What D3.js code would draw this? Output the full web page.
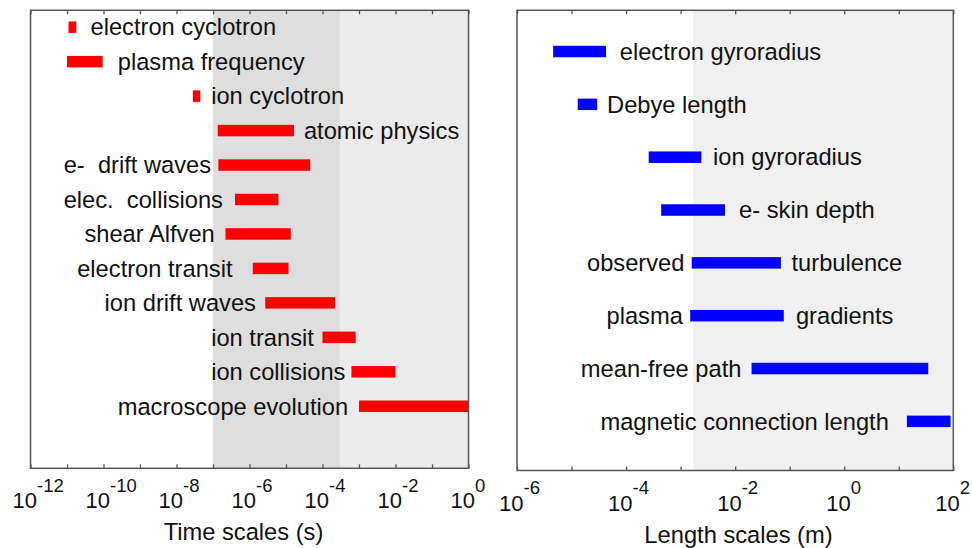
<!DOCTYPE html>
<html>
<head>
<meta charset="utf-8">
<script src="https://cdn.jsdelivr.net/npm/d3@7"></script>
<style>
  html, body { margin: 0; padding: 0; background: #fff; }
  svg { display: block; }
  text { font-family: "Liberation Sans", Arial, Helvetica, sans-serif; fill: #111; white-space: pre; }
</style>
</head>
<body>
<svg id="chart" width="972" height="548"></svg>
<script>
// ---------- Time scales (left panel) ----------
const timeCats = ["electron cyclotron", "plasma frequency", "ion cyclotron", "atomic physics",
  "e-  drift waves", "elec.  collisions", "shear Alfven", "electron transit",
  "ion drift waves", "ion transit", "ion collisions", "macroscope evolution"];
const timeLo = [1.1e-11, 1.0e-11, 2.8e-8, 1.35e-7, 1.4e-7, 4.0e-7, 2.2e-7, 1.23e-6, 2.7e-6, 1.0e-4, 6.2e-4, 1.0e-3];
const timeHi = [1.8e-11, 9.5e-11, 4.5e-8, 1.66e-5, 4.6e-5, 6.2e-6, 1.35e-5, 1.17e-5, 2.2e-4, 8.1e-4, 1.0e-2, 1.0];
const timeLabelAt = [4.4e-11, 2.45e-10, 8.9e-8, 3.1e-5, 8.1e-12, 8.1e-12, 3.0e-11, 1.9e-11, 1.07e-10, 8.9e-8, 8.9e-8, 2.45e-10];
const timeDomain = [1e-12, 1];
const timeTickExps = [-12, -10, -8, -6, -4, -2, 0];
const timeShadeDark = [1e-7, 3e-4];
const timeShadeLight = [3e-4, 1];
const timeTitle = "Time scales (s)";

// ---------- Length scales (right panel) ----------
const lengthLabels = [["electron gyroradius"], ["Debye length"], ["ion gyroradius"], ["e- skin depth"],
  ["observed", "turbulence"], ["plasma", "gradients"], ["mean-free path"], ["magnetic connection length"]];
const lengthLo = [4.6e-6, 1.3e-5, 2.6e-4, 4.4e-4, 1.6e-3, 1.5e-3, 2.0e-2, 14.1];
const lengthHi = [4.3e-5, 2.95e-5, 2.4e-3, 6.5e-3, 6.9e-2, 7.8e-2, 34.7, 89];
const lengthLabelAt = [[7.66e-5], [4.48e-5], [3.94e-3], [1.18e-2], [1.92e-5, 0.108], [4.37e-5, 0.13], [1.48e-5], [3.39e-5]];
const lengthDomain = [1e-6, 100];
const lengthTickExps = [-6, -4, -2, 0, 2];
const lengthShade = [1.7e-3, 100];
const lengthTitle = "Length scales (m)";

const svg = d3.select("#chart");
const frameColor = "#555";

function panel(cfg) {
  const x = d3.scaleLog().domain(cfg.domain).range([cfg.left, cfg.right]);
  const y = d3.scaleLinear().domain(cfg.yDomain).range([cfg.top, cfg.bottom]);
  const g = svg.append("g");

  // shading
  cfg.shades.forEach(s => {
    g.append("rect")
      .attr("x", x(s.range[0])).attr("y", cfg.top)
      .attr("width", x(s.range[1]) - x(s.range[0]))
      .attr("height", cfg.bottom - cfg.top)
      .attr("fill", s.color);
  });

  // bars
  const rows = d3.range(cfg.lo.length);
  const bh = 11.5;
  g.selectAll("rect.bar").data(rows).join("rect")
    .attr("class", "bar")
    .attr("x", i => x(cfg.lo[i]))
    .attr("y", i => y(i) - bh / 2)
    .attr("width", i => x(cfg.hi[i]) - x(cfg.lo[i]))
    .attr("height", bh)
    .attr("fill", cfg.color);

  // labels
  rows.forEach(i => {
    cfg.labels[i].forEach((t, k) => {
      g.append("text")
        .attr("x", x(cfg.labelAt[i][k]))
        .attr("y", y(i))
        .attr("dy", "0.35em")
        .attr("font-size", 23.7)
        .text(t);
    });
  });

  // ticks (every decade, inward)
  const decades = d3.range(Math.log10(cfg.domain[0]), Math.log10(cfg.domain[1]) + 1).map(e => Math.pow(10, e));
  const bottomAxis = d3.axisBottom(x).tickValues(decades).tickSize(-4).tickFormat("");
  const topAxis = d3.axisTop(x).tickValues(decades).tickSize(-4).tickFormat("");
  const ga = g.append("g").attr("transform", `translate(0,${cfg.bottom})`).call(bottomAxis);
  const gt = g.append("g").attr("transform", `translate(0,${cfg.top})`).call(topAxis);
  [ga, gt].forEach(a => {
    a.select(".domain").remove();
    a.selectAll(".tick line").attr("stroke", frameColor).attr("stroke-width", 1.3);
  });

  // frame
  g.append("rect")
    .attr("x", cfg.left).attr("y", cfg.top)
    .attr("width", cfg.right - cfg.left).attr("height", cfg.bottom - cfg.top)
    .attr("fill", "none").attr("stroke", frameColor).attr("stroke-width", 1.5);

  // tick labels 10^n
  cfg.tickExps.forEach(e => {
    const t = g.append("text")
      .attr("x", x(Math.pow(10, e)) - 18)
      .attr("y", cfg.bottom + 40)
      .attr("font-size", 22);
    t.append("tspan").text("10");
    t.append("tspan").attr("dy", -16.5).attr("font-size", 18.5).text(String(e));
  });

  // axis title
  g.append("text")
    .attr("x", cfg.titleX)
    .attr("y", cfg.bottom + 72)
    .attr("text-anchor", "middle")
    .attr("font-size", 23.7)
    .text(cfg.title);
}

panel({
  domain: timeDomain, left: 30.5, right: 468.5, top: 10.3, bottom: 468.3,
  yDomain: [-0.49, 12.8],
  lo: timeLo, hi: timeHi, labels: timeCats.map(c => [c]), labelAt: timeLabelAt.map(v => [v]),
  color: "#ff0000",
  shades: [{ range: timeShadeDark, color: "#dedede" }, { range: timeShadeLight, color: "#ebebeb" }],
  tickExps: timeTickExps, title: timeTitle, titleX: 243.5
});

panel({
  domain: lengthDomain, left: 517, right: 953.3, top: 10.3, bottom: 470.5,
  yDomain: [-0.78, 7.93],
  lo: lengthLo, hi: lengthHi, labels: lengthLabels, labelAt: lengthLabelAt,
  color: "#0000ff",
  shades: [{ range: lengthShade, color: "#f0f0f0" }],
  tickExps: lengthTickExps, title: lengthTitle, titleX: 738.5
});
</script>
</body>
</html>
